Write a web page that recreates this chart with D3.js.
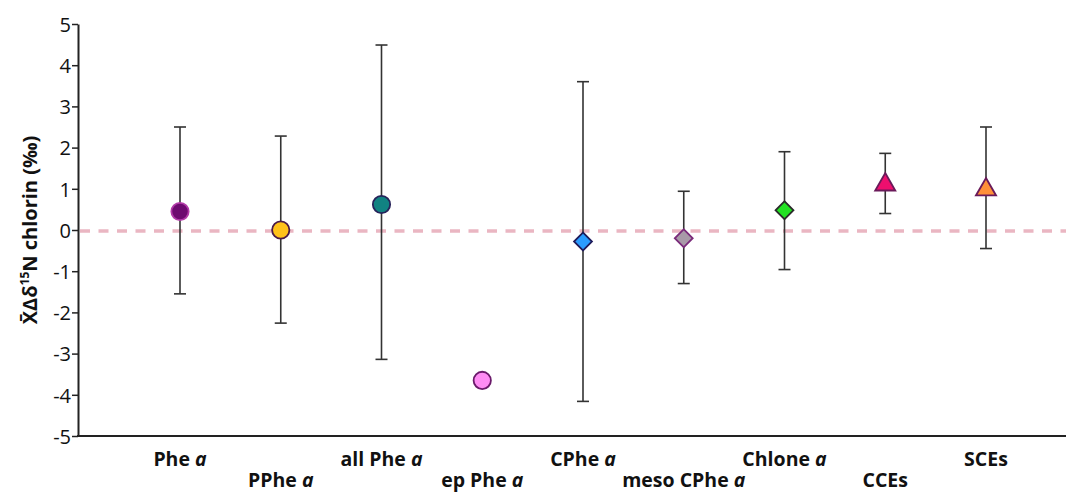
<!DOCTYPE html>
<html><head><meta charset="utf-8">
<script src="https://cdn.jsdelivr.net/npm/d3@7"></script>
<style>body{margin:0;background:#fff}svg{display:block}</style>
</head><body><svg id="c" width="1071" height="493"></svg>
<script>
const categories = ["Phe a","PPhe a","all Phe a","ep Phe a","CPhe a","meso CPhe a","Chlone a","CCEs","SCEs"];
const labelBase = ["Phe ","PPhe ","all Phe ","ep Phe ","CPhe ","meso CPhe ","Chlone ","CCEs","SCEs"];
const labelItalic = ["a","a","a","a","a","a","a","",""];
const means = [0.45, 0.0, 0.62, -3.65, -0.28, -0.2, 0.48, 1.1, 0.98];
const upper = [2.5, 2.28, 4.49, null, 3.6, 0.94, 1.9, 1.86, 2.5];
const lower = [-1.55, -2.26, -3.14, null, -4.16, -1.3, -0.96, 0.4, -0.45];
const shapes = ["circle","circle","circle","circle","diamond","diamond","diamond","triangle","triangle"];
const fills = ["#6e0a70","#ffc21a","#118282","#ff8cf4","#2b9cff","#a89aa8","#22e222","#ee0f6e","#ff9038"];
const strokes = ["#b23aa8","#4a1a48","#27235a","#6a1a6a","#1e1a5a","#7a2a7a","#2a2a2a","#6a1a5a","#6a1a5a"];
const yTicks = [5,4,3,2,1,0,-1,-2,-3,-4,-5];

const svg = d3.select("#c");
const font = "'Open Sans', Lato, sans-serif";
const y = d3.scaleLinear().domain([-5,5]).range([436,24]);
const x = d3.scalePoint().domain(categories).range([180,986]);
const axisLeftX = 78, axisRightX = 1066;

// zero reference line
svg.append("line").attr("x1",axisLeftX+2).attr("x2",axisRightX).attr("y1",y(0)+1).attr("y2",y(0)+1)
  .attr("stroke","#eab6c2").attr("stroke-width",3.5).attr("stroke-dasharray","10,8.5");

// y axis
const ya = svg.append("g").attr("transform",`translate(${axisLeftX},0)`)
  .call(d3.axisLeft(y).tickValues(yTicks).tickSize(6).tickSizeOuter(0).tickFormat(d => String(d)));
ya.select(".domain").attr("stroke","#222").attr("stroke-width",2);
ya.selectAll(".tick line").attr("stroke","#222").attr("stroke-width",1.5);
ya.selectAll(".tick text").attr("font-family",font).attr("font-size",20).attr("fill","#111").attr("x",-7).attr("dy","0.36em");

// x axis line
svg.append("line").attr("x1",axisLeftX-1).attr("x2",axisRightX).attr("y1",y(-5)).attr("y2",y(-5))
  .attr("stroke","#222").attr("stroke-width",2.2);

// error bars
const eb = svg.append("g");
categories.forEach((c,i)=>{
  if(upper[i]==null) return;
  const cx = x(c);
  eb.append("line").attr("x1",cx).attr("x2",cx).attr("y1",y(upper[i])).attr("y2",y(lower[i])).attr("stroke","#333").attr("stroke-width",1.6);
  [upper[i],lower[i]].forEach(v=>{
    eb.append("line").attr("x1",cx-6).attr("x2",cx+6).attr("y1",y(v)).attr("y2",y(v)).attr("stroke","#333").attr("stroke-width",1.6);
  });
});

// markers
const symMap = {circle:d3.symbolCircle, diamond:d3.symbolSquare, triangle:d3.symbolTriangle};
const sizeMap = {circle:235, diamond:160, triangle:175};
categories.forEach((c,i)=>{
  const sh = shapes[i];
  let t = `translate(${x(c)},${y(means[i])})`;
  if(sh==="diamond") t += " rotate(45)";
  svg.append("path").attr("d",d3.symbol().type(symMap[sh]).size(sizeMap[sh])())
    .attr("transform",t).attr("fill",fills[i]).attr("stroke",strokes[i]).attr("stroke-width",1.8);
});

// x category labels
categories.forEach((c,i)=>{
  const t = svg.append("text").attr("x",x(c)).attr("y", i%2===0 ? 466 : 487)
    .attr("text-anchor","middle").attr("font-family",font).attr("font-weight","bold").attr("font-size",19.5).attr("fill","#111");
  t.append("tspan").text(labelBase[i]);
  if(labelItalic[i]) t.append("tspan").attr("font-style","italic").text(labelItalic[i]);
});

// y title
const yt = svg.append("text").attr("transform",`translate(37,${y(0)}) rotate(-90)`)
  .attr("text-anchor","middle").attr("font-family",font).attr("font-weight","bold").attr("font-size",20).attr("fill","#111");
yt.append("tspan").text("X\u0304\u0394\u03b4");
yt.append("tspan").attr("font-size",12).attr("dy",-8).text("15");
yt.append("tspan").attr("dy",8).text("N chlorin (\u2030)");
</script></body></html>
